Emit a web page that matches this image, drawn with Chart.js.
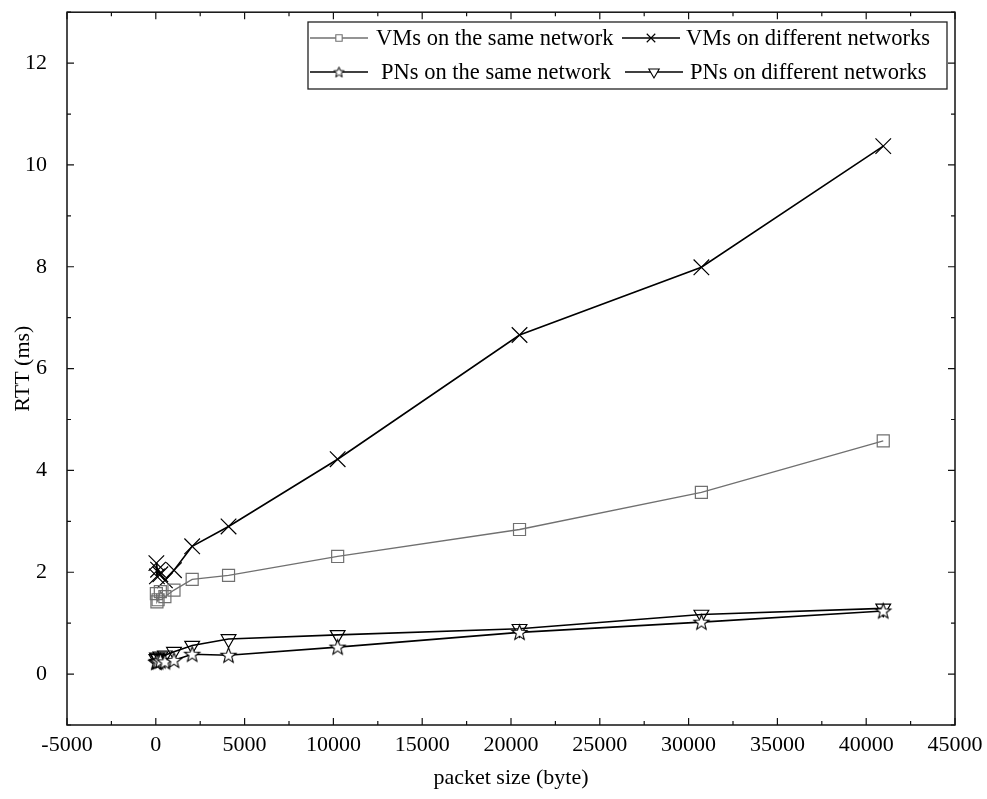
<!DOCTYPE html>
<html>
<head>
<meta charset="utf-8">
<script src="https://cdn.jsdelivr.net/npm/chart.js@4/dist/chart.umd.min.js"></script>
<style>
  body { margin: 0; background: #fff; }
  canvas { display: block; }
</style>
</head>
<body>
<canvas id="rtt-chart" width="987" height="799"></canvas>
<script>
// дані з графіка (розмір пакета в байтах, RTT в мс)
const packetSizes = [32, 64, 128, 256, 512, 1024, 2048, 4096, 10240, 20480, 30720, 40960];
const vmSameNet   = [1.58, 1.42, 1.46, 1.62, 1.52, 1.65, 1.86, 1.94, 2.31, 2.84, 3.57, 4.58];
const vmDiffNet   = [2.18, 1.92, 2.05, 1.96, 1.84, 2.04, 2.51, 2.90, 4.22, 6.66, 7.99, 10.37];
const pnSameNet   = [0.23, 0.25, 0.24, 0.26, 0.24, 0.27, 0.39, 0.37, 0.53, 0.82, 1.02, 1.24];
const pnDiffNet   = [0.30, 0.33, 0.31, 0.35, 0.37, 0.44, 0.56, 0.69, 0.77, 0.89, 1.17, 1.29];
const yTickValues = [0, 2, 4, 6, 8, 10, 12];
const seriesLabels = [
  "VMs on the same network",
  "VMs on different networks",
  "PNs on the same network",
  "PNs on different networks"
];

const FONT = "'Liberation Serif', 'Times New Roman', serif";

// зірочка як canvas для pointStyle
function makeStar(outer, inner, lw) {
  const size = Math.ceil(outer * 2 + lw * 2 + 2);
  const c = document.createElement("canvas");
  c.width = size; c.height = size;
  const g = c.getContext("2d");
  const cx = size / 2, cy = size / 2 + 0.5;
  g.beginPath();
  for (let i = 0; i < 10; i++) {
    const r = i % 2 === 0 ? outer : inner;
    const a = -Math.PI / 2 + i * Math.PI / 5;
    const px = cx + r * Math.cos(a), py = cy + r * Math.sin(a);
    if (i === 0) g.moveTo(px, py); else g.lineTo(px, py);
  }
  g.closePath();
  g.fillStyle = "#fff";
  g.fill();
  g.lineWidth = lw;
  g.strokeStyle = "#000";
  g.stroke();
  return c;
}
const starBig   = makeStar(8, 3.4, 1.1);
const starSmall = makeStar(5.5, 2.4, 1.0);

const toPoints = ys => packetSizes.map((x, i) => ({ x: x, y: ys[i] }));

const styles = [
  { color: "#707070", lw: 1.3, pointStyle: "rect", radius: 8.5, rotation: 0, legendRadius: 4.5 },
  { color: "#000",    lw: 1.6, pointStyle: "crossRot", radius: 11, rotation: 0, legendRadius: 6 },
  { color: "#000",    lw: 1.6, pointStyle: starBig, radius: 8, rotation: 0, legendStar: starSmall },
  { color: "#000",    lw: 1.6, pointStyle: "triangle", radius: 8.5, rotation: 180, legendRadius: 6 }
];
const allSeries = [vmSameNet, vmDiffNet, pnSameNet, pnDiffNet];

// рамка з внутрішніми рисками на всіх чотирьох сторонах
const framePlugin = {
  id: "frame",
  afterDatasetsDraw(chart) {
    const { ctx, chartArea: a, scales } = chart;
    ctx.save();
    ctx.strokeStyle = "#111";
    ctx.lineWidth = 1.5;
    ctx.strokeRect(a.left, a.top, a.right - a.left, a.bottom - a.top);
    ctx.lineWidth = 1.2;
    const major = 7, minor = 4;
    const xs = scales.x, ys = scales.y;
    ctx.beginPath();
    xs.ticks.forEach((t, i) => {
      const px = xs.getPixelForValue(t.value);
      ctx.moveTo(px, a.bottom); ctx.lineTo(px, a.bottom - major);
      ctx.moveTo(px, a.top); ctx.lineTo(px, a.top + major);
      if (i < xs.ticks.length - 1) {
        const mx = xs.getPixelForValue(t.value + 2500);
        ctx.moveTo(mx, a.bottom); ctx.lineTo(mx, a.bottom - minor);
        ctx.moveTo(mx, a.top); ctx.lineTo(mx, a.top + minor);
      }
    });
    const yMinor = [-1].concat(ys.ticks.map(t => t.value + 1));
    ys.ticks.forEach(t => {
      const py = ys.getPixelForValue(t.value);
      ctx.moveTo(a.left, py); ctx.lineTo(a.left + major, py);
      ctx.moveTo(a.right, py); ctx.lineTo(a.right - major, py);
    });
    yMinor.forEach(v => {
      const my = ys.getPixelForValue(v);
      ctx.moveTo(a.left, my); ctx.lineTo(a.left + minor, my);
      ctx.moveTo(a.right, my); ctx.lineTo(a.right - minor, my);
    });
    ctx.stroke();
    ctx.restore();
  }
};

// легенда у рамці: лінія + маркер + текст, 2x2
const legendPlugin = {
  id: "boxLegend",
  afterDraw(chart) {
    const ctx = chart.ctx;
    const box = { left: 308, top: 22, right: 947, bottom: 89 };
    const rows = [38, 72];
    const sampleX = [310, 622, 310, 625];
    const textX = [376, 686, 381, 690];
    const sampleLen = 58;
    ctx.save();
    ctx.fillStyle = "#fff";
    ctx.fillRect(box.left, box.top, box.right - box.left, box.bottom - box.top);
    ctx.strokeStyle = "#222";
    ctx.lineWidth = 1.3;
    ctx.strokeRect(box.left, box.top, box.right - box.left, box.bottom - box.top);
    ctx.font = "22.5px " + FONT;
    ctx.textBaseline = "middle";
    chart.data.datasets.forEach((ds, i) => {
      const st = styles[i];
      const x0 = sampleX[i], y = rows[Math.floor(i / 2)];
      ctx.strokeStyle = st.color;
      ctx.lineWidth = st.lw;
      ctx.beginPath();
      ctx.moveTo(x0, y); ctx.lineTo(x0 + sampleLen, y);
      ctx.stroke();
      ctx.fillStyle = "#fff";
      ctx.lineWidth = 1.1;
      Chart.helpers.drawPoint(ctx, {
        pointStyle: st.legendStar || st.pointStyle,
        radius: st.legendRadius || 5,
        rotation: st.rotation,
        borderWidth: 1.1
      }, x0 + sampleLen / 2, y);
      ctx.fillStyle = "#000";
      ctx.fillText(ds.label, textX[i], y + 1);
    });
    ctx.restore();
  }
};

new Chart(document.getElementById("rtt-chart").getContext("2d"), {
  type: "line",
  data: {
    datasets: allSeries.map((ys, i) => ({
      label: seriesLabels[i],
      data: toPoints(ys),
      borderColor: styles[i].color,
      borderWidth: styles[i].lw,
      pointStyle: styles[i].pointStyle,
      pointRadius: styles[i].radius,
      pointRotation: styles[i].rotation,
      pointBorderColor: styles[i].color,
      pointBackgroundColor: "rgba(255,255,255,0)",
      pointBorderWidth: 1.2,
      tension: 0
    }))
  },
  options: {
    responsive: false,
    animation: false,
    layout: { padding: { top: 11, right: 32, left: 0, bottom: 0 } },
    plugins: {
      legend: { display: false },
      tooltip: { enabled: false }
    },
    scales: {
      x: {
        type: "linear",
        min: -5000,
        max: 45000,
        afterFit: s => { s.height = 74; s.paddingLeft = 0; s.paddingRight = 0; },
        ticks: {
          stepSize: 5000,
          padding: 7,
          color: "#000",
          font: { family: FONT, size: 22 },
          maxRotation: 0,
          callback: v => String(v)
        },
        grid: { display: false, drawTicks: false },
        border: { display: false },
        title: {
          display: true,
          text: "packet size (byte)",
          color: "#000",
          font: { family: FONT, size: 22 },
          padding: { top: 0, bottom: 8 }
        }
      },
      y: {
        type: "linear",
        min: -1,
        max: 13,
        afterFit: s => { s.width = 67; s.paddingTop = 0; s.paddingBottom = 0; },
        afterBuildTicks: s => {
          s.ticks = yTickValues.map(v => ({ value: v }));
        },
        ticks: {
          padding: 20,
          color: "#000",
          font: { family: FONT, size: 22 },
          callback: v => String(v)
        },
        grid: { display: false, drawTicks: false },
        border: { display: false },
        title: {
          display: true,
          text: "RTT (ms)",
          color: "#000",
          font: { family: FONT, size: 22 },
          padding: { top: 10, bottom: 0 }
        }
      }
    }
  },
  plugins: [framePlugin, legendPlugin]
});
</script>
</body>
</html>
